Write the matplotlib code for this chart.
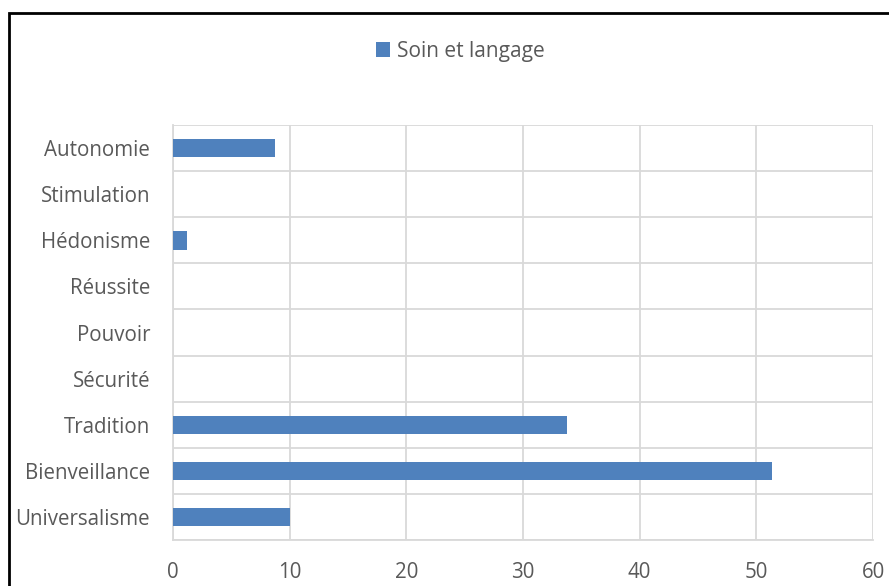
import matplotlib.pyplot as plt
import numpy as np
from matplotlib.patches import Rectangle

categories = ['Universalisme', 'Bienveillance', 'Tradition', 'Sécurité', 'Pouvoir',
              'Réussite', 'Hédonisme', 'Stimulation', 'Autonomie']
values = [10.0, 51.3, 33.8, 0, 0, 0, 1.2, 0, 8.7]
series_name = 'Soin et langage'
xticks = [0, 10, 20, 30, 40, 50, 60]

plt.rcParams['font.family'] = ['Open Sans', 'DejaVu Sans']
grey = '#595959'
gridc = '#d9d9d9'

fig = plt.figure(figsize=(8.89, 5.86), dpi=100)
W, H = 889, 586
ax = fig.add_axes([173 / W, 1 - 540 / H, (873 - 173) / W, (540 - 125) / H])

y = np.arange(len(categories))
ax.barh(y, values, height=0.4, color='#4f81bd', label=series_name, zorder=3)
ax.set_ylim(-0.5, len(categories) - 0.5)
ax.set_xlim(0, 60)
ax.set_xticks(xticks)
ax.set_yticks(y)
ax.set_yticklabels(categories)
ax.set_yticks(np.arange(-0.5, len(categories), 1), minor=True)
ax.grid(True, which='minor', axis='y', color=gridc, lw=1.3, zorder=0)
ax.grid(True, which='major', axis='x', color=gridc, lw=1.3, zorder=0)
for s in ['top', 'right']:
    ax.spines[s].set_visible(False)
for s in ['left', 'bottom']:
    ax.spines[s].set_color(gridc)
    ax.spines[s].set_linewidth(1.3)
ax.tick_params(axis='both', which='both', length=0, colors=grey, labelsize=14.8)
ax.tick_params(axis='y', pad=16.5)
ax.tick_params(axis='x', pad=16)

fig.legend(loc='center', bbox_to_anchor=(460 / W, 1 - 51 / H), frameon=False,
           fontsize=15, labelcolor=grey, handlelength=0.7, handleheight=0.7,
           handletextpad=0.3)

fig.patches.append(Rectangle((9 / W, -0.1), 1.2, 1 - 13 / H + 0.1, transform=fig.transFigure,
                             fill=False, edgecolor='black', lw=2, clip_on=False))

fig.savefig('out.png', dpi=100)
